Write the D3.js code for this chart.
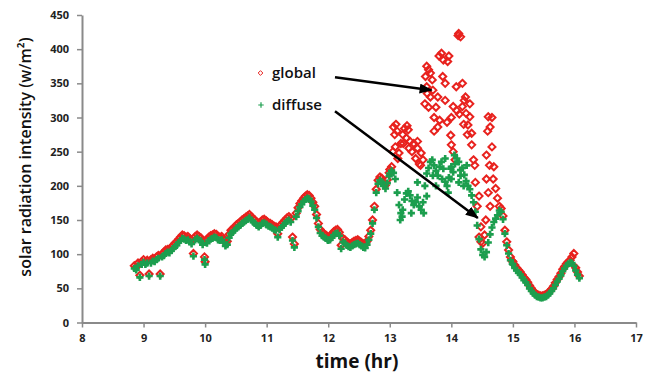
<!DOCTYPE html>
<html>
<head>
<meta charset="utf-8">
<script src="https://cdn.jsdelivr.net/npm/d3@7"></script>
<style>
  body { margin: 0; background: #fff; }
  svg { display: block; }
</style>
</head>
<body>
<div id="chart"></div>
<script>
// time of day (hr), one row per hour
const time = [
  8.85, 8.88, 8.91, 8.94, 8.97,
  9.00, 9.03, 9.06, 9.09, 9.12, 9.15, 9.18, 9.21, 9.24, 9.27, 9.30, 9.33, 9.36, 9.39, 9.42, 9.45, 9.48, 9.51, 9.54, 9.57, 9.60, 9.63, 9.66, 9.69, 9.72, 9.75, 9.78, 9.81, 9.84, 9.87, 9.90, 9.93, 9.96, 9.99,
  10.00, 10.03, 10.06, 10.09, 10.12, 10.15, 10.18, 10.21, 10.24, 10.27, 10.30, 10.33, 10.36, 10.39, 10.42, 10.45, 10.48, 10.51, 10.54, 10.57, 10.60, 10.63, 10.66, 10.69, 10.72, 10.75, 10.78, 10.81, 10.84, 10.87, 10.90, 10.93, 10.96, 10.99,
  11.00, 11.03, 11.06, 11.09, 11.12, 11.15, 11.18, 11.21, 11.24, 11.27, 11.30, 11.33, 11.36, 11.39, 11.42, 11.45, 11.48, 11.51, 11.54, 11.57, 11.60, 11.63, 11.66, 11.69, 11.72, 11.75, 11.78, 11.81, 11.84, 11.87, 11.90, 11.93, 11.96, 11.99,
  12.00, 12.03, 12.06, 12.09, 12.12, 12.15, 12.18, 12.21, 12.24, 12.27, 12.30, 12.33, 12.36, 12.39, 12.42, 12.45, 12.48, 12.51, 12.54, 12.57, 12.60, 12.63, 12.66, 12.69, 12.72, 12.75, 12.78, 12.81, 12.84, 12.87, 12.90, 12.93, 12.96, 12.99,
  13.00, 13.03, 13.06, 13.09, 13.12, 13.15, 13.18, 13.21, 13.24, 13.27, 13.30, 13.33, 13.36, 13.39, 13.42, 13.45, 13.48, 13.51, 13.54, 13.57, 13.60, 13.63, 13.66, 13.69, 13.72, 13.75, 13.78, 13.81, 13.84, 13.87, 13.90, 13.93, 13.96, 13.99,
  14.00, 14.03, 14.06, 14.09, 14.12, 14.15, 14.18, 14.21, 14.24, 14.27, 14.30, 14.33, 14.36, 14.39, 14.42, 14.45, 14.48, 14.51, 14.54, 14.57, 14.60, 14.63, 14.66, 14.69, 14.72, 14.75, 14.78, 14.81, 14.84, 14.87, 14.90, 14.93, 14.96, 14.99,
  15.00, 15.03, 15.06, 15.09, 15.12, 15.15, 15.18, 15.21, 15.24, 15.27, 15.30, 15.33, 15.36, 15.39, 15.42, 15.45, 15.48, 15.51, 15.54, 15.57, 15.60, 15.63, 15.66, 15.69, 15.72, 15.75, 15.78, 15.81, 15.84, 15.87, 15.90, 15.93, 15.96, 15.99,
  16.02, 16.05, 16.08
];

// diffuse radiation (w/m2)
const diffuse = [
  79, 77, 83, 66, 85,
  88, 85, 87, 68, 87, 90, 89, 92, 94, 68, 96, 98, 101, 103, 102, 105, 108, 111, 113, 117, 120, 123, 122, 120, 121, 118, 115, 97, 121, 123, 121, 119, 114, 92,
  85, 116, 120, 122, 123, 125, 124, 121, 120, 121, 117, 112, 114, 124, 130, 132, 135, 138, 140, 142, 145, 147, 149, 151, 153, 150, 147, 145, 142, 140, 142, 145, 146, 144,
  143, 141, 140, 138, 136, 135, 125, 136, 139, 142, 145, 148, 150, 147, 120, 110, 155, 163, 169, 173, 177, 180, 182, 181, 177, 171, 165, 153, 140, 131, 127, 125, 123, 121,
  120, 121, 124, 128, 130, 131, 127, 108, 118, 116, 113, 111, 110, 112, 114, 115, 116, 114, 112, 110, 109, 114, 121, 130, 145, 165, 190, 203, 208, 206, 200, 196, 204, 214,
  218, 222, 219, 210, 190, 172, 160, 165, 180, 189, 192, 186, 178, 172, 176, 183, 170, 165, 176, 200, 218, 226, 235, 238, 230, 222, 215, 228, 235, 225, 206, 200, 212, 225,
  228, 220, 232, 240, 235, 223, 226, 216, 207, 200, 195, 186, 176, 162, 142, 122, 107, 99, 96, 103, 117, 129, 139, 147, 152, 157, 164, 162, 151, 130, 113, 101, 91, 86,
  85, 80, 76, 73, 70, 66, 62, 59, 55, 50, 46, 43, 40, 38, 37, 36, 36, 37, 38, 40, 43, 46, 50, 55, 60, 64, 69, 75, 79, 83, 86, 88, 87, 83,
  76, 70, 65
];

// global radiation (w/m2)
const global = [
  83, 81, 87, 69, 89,
  92, 89, 91, 71, 92, 94, 93, 96, 98, 71, 100, 103, 106, 107, 107, 110, 113, 116, 118, 122, 125, 128, 127, 125, 126, 123, 120, 101, 126, 128, 126, 124, 119, 96,
  89, 121, 125, 127, 128, 130, 129, 126, 125, 126, 122, 117, 119, 129, 135, 137, 140, 143, 145, 147, 150, 152, 154, 156, 158, 155, 152, 150, 147, 145, 147, 150, 151, 149,
  148, 146, 145, 143, 141, 140, 130, 141, 144, 147, 150, 153, 155, 152, 125, 115, 160, 168, 174, 178, 182, 185, 187, 186, 182, 176, 170, 158, 145, 136, 132, 130, 128, 126,
  125, 126, 129, 133, 135, 136, 132, 113, 123, 121, 118, 116, 115, 117, 119, 120, 121, 119, 117, 115, 114, 119, 126, 135, 150, 170, 195, 208, 213, 211, 205, 201, 209, 219,
  224, 228, 286, 257, 280, 248, 262, 275, 284, 270, 282, 265, 250, 262, 240, 255, 232, 248, 238, 320, 345, 370, 330, 355, 300, 315, 286, 296, 394, 384, 350, 293, 390, 274,
  260, 316, 238, 310, 423, 418, 316, 325, 306, 289, 301, 277, 238, 205, 170, 125, 118, 116, 128, 245, 301, 286, 257, 228, 196, 182, 170, 167, 156, 135, 118, 106, 96, 90,
  89, 84, 80, 77, 74, 70, 66, 63, 59, 54, 50, 46, 43, 41, 40, 39, 39, 40, 41, 43, 46, 49, 53, 58, 63, 67, 72, 78, 82, 86, 89, 91, 96, 101,
  80, 74, 68
];

// extra readings in the cloudy period
const globalExtraTime = [13.05, 13.08, 13.10, 13.13, 13.22, 13.28, 13.31, 13.45, 13.50, 13.58, 13.60, 13.61, 13.63, 13.66, 13.70, 13.72, 13.78, 13.80, 13.86, 13.90, 13.94, 14.00, 14.03, 14.08, 14.11, 14.13, 14.18, 14.20, 14.23, 14.26, 14.30, 14.33, 14.38, 14.45, 14.48, 14.56, 14.57, 14.59, 14.60, 14.62, 14.63, 14.66, 14.68];
const globalExtra = [250, 275, 290, 240, 262, 288, 255, 265, 230, 360, 375, 335, 315, 365, 340, 280, 330, 390, 360, 325, 382, 300, 250, 345, 420, 305, 350, 290, 330, 275, 320, 260, 230, 185, 140, 150, 210, 280, 190, 230, 170, 300, 210];
const diffuseExtraTime = [13.17, 13.20, 13.35, 13.45, 13.55, 13.60, 13.70, 13.75, 13.85, 13.90, 13.95, 14.00, 14.05, 14.12, 14.15, 14.20, 14.25];
const diffuseExtra = [150, 155, 160, 205, 160, 185, 215, 200, 210, 240, 190, 210, 245, 205, 215, 200, 230];

const xTicks = [8, 9, 10, 11, 12, 13, 14, 15, 16, 17];
const yTicks = [0, 50, 100, 150, 200, 250, 300, 350, 400, 450];

const width = 657, height = 381;
const svg = d3.select('#chart').append('svg')
  .attr('width', width)
  .attr('height', height);

const x = d3.scaleLinear().domain([8, 17]).range([82, 636]);
const y = d3.scaleLinear().domain([0, 450]).range([322.5, 15]);

// marker shapes
const diamondType = { draw(ctx, size) { const r = Math.sqrt(size) / 2; ctx.moveTo(0, -r); ctx.lineTo(r, 0); ctx.lineTo(0, r); ctx.lineTo(-r, 0); ctx.closePath(); } };
const plusType = { draw(ctx, size) { const r = Math.sqrt(size) / 2; ctx.moveTo(-r, 0); ctx.lineTo(r, 0); ctx.moveTo(0, -r); ctx.lineTo(0, r); } };

const red = '#e8221e';
const green = '#1c9e4e';

// axes
const yAxis = svg.append('g')
  .attr('transform', `translate(${x(8)},0)`)
  .call(d3.axisLeft(y).tickValues(yTicks).tickSize(5).tickSizeOuter(0).tickPadding(8));
const xAxis = svg.append('g')
  .attr('transform', `translate(0,${y(0)})`)
  .call(d3.axisBottom(x).tickValues(xTicks).tickSize(5).tickSizeOuter(0).tickPadding(7));

[xAxis, yAxis].forEach(g => {
  g.select('.domain').attr('stroke', '#8a8a8a').attr('stroke-width', 2);
  g.selectAll('.tick line').attr('stroke', '#8a8a8a').attr('stroke-width', 1.5);
  g.selectAll('.tick text')
    .attr('fill', '#222')
    .style('font-family', '"Open Sans", sans-serif')
    .style('font-size', '11px')
    .style('font-weight', 'bold');
});

// global points
const gPts = time.map((t, i) => [t, global[i]]).concat(globalExtraTime.map((t, i) => [t, globalExtra[i]]));
svg.append('g').selectAll('path')
  .data(gPts)
  .join('path')
  .attr('transform', d => `translate(${x(d[0])},${y(d[1])})`)
  .attr('d', d3.symbol().type(diamondType).size(50))
  .attr('fill', 'none')
  .attr('stroke', red)
  .attr('stroke-width', 2);

// diffuse points
const dPts = time.map((t, i) => [t, diffuse[i]]).concat(diffuseExtraTime.map((t, i) => [t, diffuseExtra[i]]));
svg.append('g').selectAll('path')
  .data(dPts)
  .join('path')
  .attr('transform', d => `translate(${x(d[0])},${y(d[1])})`)
  .attr('d', d3.symbol().type(plusType).size(52))
  .attr('fill', 'none')
  .attr('stroke', green)
  .attr('stroke-width', 2.6);

// axis titles
svg.append('text')
  .attr('x', 357)
  .attr('y', 368)
  .attr('text-anchor', 'middle')
  .style('font-family', '"Open Sans", sans-serif')
  .style('font-size', '19px')
  .style('font-weight', 'bold')
  .attr('fill', '#111')
  .text('time (hr)');

svg.append('text')
  .attr('transform', 'rotate(-90)')
  .attr('x', -157)
  .attr('y', 31)
  .attr('text-anchor', 'middle')
  .style('font-family', '"Open Sans", sans-serif')
  .style('font-size', '16px')
  .style('font-weight', 600)
  .attr('fill', '#111')
  .text('solar radiation intensity (w/m²)');

// legend
const legend = svg.append('g');
legend.append('path')
  .attr('transform', 'translate(260.5,73)')
  .attr('d', d3.symbol().type(diamondType).size(22))
  .attr('fill', 'none').attr('stroke', red).attr('stroke-width', 1);
legend.append('path')
  .attr('transform', 'translate(261,105)')
  .attr('d', d3.symbol().type(plusType).size(30))
  .attr('fill', 'none').attr('stroke', green).attr('stroke-width', 1.2);
legend.selectAll('text')
  .data([['global', 78], ['diffuse', 110]])
  .join('text')
  .attr('x', 272)
  .attr('y', d => d[1])
  .style('font-family', '"Open Sans", sans-serif')
  .style('font-size', '15px')
  .style('font-weight', 600)
  .attr('fill', '#111')
  .text(d => d[0]);

// arrows pointing at the two series
svg.append('defs').append('marker')
  .attr('id', 'head')
  .attr('markerUnits', 'userSpaceOnUse')
  .attr('markerWidth', 13).attr('markerHeight', 10)
  .attr('refX', 12).attr('refY', 5)
  .attr('orient', 'auto')
  .append('path')
  .attr('d', 'M0,0 L13,5 L0,10 Z')
  .attr('fill', '#000');

const arrows = [
  [[12.11, 359], [13.68, 340]],
  [[12.11, 309], [14.43, 153]]
];
svg.append('g').selectAll('line')
  .data(arrows)
  .join('line')
  .attr('x1', d => x(d[0][0])).attr('y1', d => y(d[0][1]))
  .attr('x2', d => x(d[1][0])).attr('y2', d => y(d[1][1]))
  .attr('stroke', '#000')
  .attr('stroke-width', 2.5)
  .attr('marker-end', 'url(#head)');
</script>
</body>
</html>
